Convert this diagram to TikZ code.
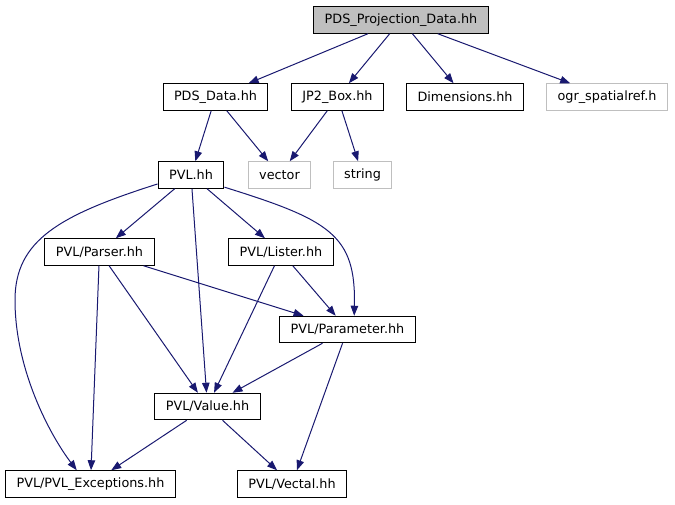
\documentclass[tikz,border=0pt]{standalone}
\usepackage{fontspec}
\setmainfont{DejaVu Sans}
\usetikzlibrary{arrows.meta}
\definecolor{edgeblue}{RGB}{25,25,112}
\definecolor{extgray}{RGB}{191,191,191}

\begin{document}
\begin{tikzpicture}[x=1pt,y=-1pt,>={Triangle[length=10pt,width=7.5pt]},
  box/.style={draw=black,line width=1pt,inner xsep=11pt,minimum height=26.5pt,
    font=\fontsize{12.8}{15}\selectfont},
  extbox/.style={box,draw=extgray},
  edge/.style={->,draw=edgeblue,line width=1pt}]
  \useasboundingbox (0,0) rectangle (675,504);
  \node[box,fill=extgray] (projdata) at (401,20) {PDS\_Projection\_Data.hh};
  \node[box] (pdsdata) at (215.5,97) {PDS\_Data.hh};
  \node[box] (jp2box) at (337.5,97) {JP2\_Box.hh};
  \node[box] (dims) at (465,97) {Dimensions.hh};
  \node[extbox] (ogr) at (607,97) {ogr\_spatialref.h};
  \node[box] (pvl) at (191,175) {PVL.hh};
  \node[extbox] (vector) at (279.5,175) {vector};
  \node[extbox] (string) at (362.5,175) {string};
  \node[box] (parser) at (99.5,252) {PVL/Parser.hh};
  \node[box] (lister) at (281,252) {PVL/Lister.hh};
  \node[box] (param) at (347.5,329.5) {PVL/Parameter.hh};
  \node[box] (value) at (207.5,406.5) {PVL/Value.hh};
  \node[box] (exc) at (90.5,484) {PVL/PVL\_Exceptions.hh};
  \node[box] (vectal) at (292,484) {PVL/Vectal.hh};
  \foreach \a/\b in {projdata/pdsdata,projdata/jp2box,projdata/dims,projdata/ogr,
      pdsdata/pvl,pdsdata/vector,jp2box/vector,jp2box/string,
      pvl/parser,pvl/lister,pvl/value,parser/exc,parser/value,parser/param,
      lister/value,lister/param,param/value,param/vectal,value/exc,value/vectal}
    \draw[edge] (\a) -- (\b);
  % 曲がった依存線
  \draw[edge] (pvl.195) .. controls (60,215) and (15,240) .. (15,300)
    .. controls (15,370) and (50,435) .. (exc.135);
  \draw[edge] (pvl.-20) .. controls (330,220) and (356,235) .. (param.64);
\end{tikzpicture}
\end{document}
